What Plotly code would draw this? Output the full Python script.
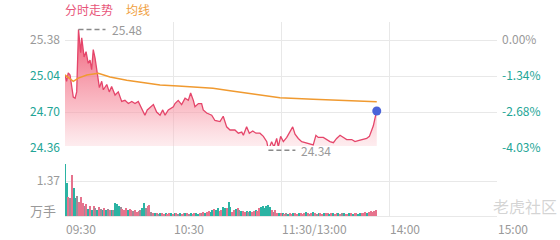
import plotly.graph_objects as go

# ---------------- data ----------------
# price line: minute index (from 09:30) and price
price_t = [0, 0.9, 1.8, 2.8, 4.6, 5.6, 6.5, 7.5, 8.7, 9.3, 10.6, 11.7, 12.9, 13.9, 14.8, 15.7,
           16.7, 17.9, 19.1, 20.4, 21.3, 23.2, 24.6, 25.9, 27.8, 29.6, 31.5, 33.3, 35.2, 37.1,
           38.9, 40.7, 42.6, 44.4, 45.7, 47.2, 49.1, 50.9, 52.8, 54.3, 55.6, 57.4, 60.2, 61.1,
           62.9, 64.8, 66.7, 68.5, 69.8, 71.3, 72.2, 74.1, 75.9, 76.8, 78.7, 81.5, 83.3, 86.1,
           87.9, 89.8, 91.7, 94.4, 96.3, 98.2, 99.1, 100.9, 102.4, 104.3, 106.1, 108.3, 110.2,
           112.1, 113.0, 114.8, 116.1, 117.6, 118.5, 119.8, 121.3, 123.2, 125.0, 126.5, 127.8,
           129.6, 131.5, 133.3, 135.2, 137.9, 139.4, 140.7, 143.5, 145.4, 147.2, 149.1, 150.9,
           152.8, 154.6, 156.5, 159.3, 161.1, 162.9, 165.7, 167.6, 169.1, 170.4, 171.3, 172.2,
           173.2]
price_v = [25.05, 24.99, 25.07, 25.05, 24.84, 24.83, 24.89, 25.48, 25.26, 25.40, 25.22, 25.27,
           25.16, 25.19, 25.10, 25.29, 25.21, 25.05, 24.93, 24.99, 24.91, 24.96, 24.89, 24.94,
           24.86, 24.89, 24.80, 24.81, 24.78, 24.80, 24.78, 24.80, 24.74, 24.67, 24.72, 24.74,
           24.77, 24.70, 24.67, 24.72, 24.67, 24.72, 24.75, 24.78, 24.81, 24.77, 24.83, 24.81,
           24.88, 24.81, 24.75, 24.78, 24.78, 24.72, 24.69, 24.67, 24.62, 24.61, 24.66, 24.56,
           24.53, 24.53, 24.50, 24.51, 24.48, 24.56, 24.50, 24.52, 24.50, 24.50, 24.47, 24.42,
           24.34, 24.42, 24.37, 24.45, 24.37, 24.47, 24.42, 24.46, 24.52, 24.56, 24.49, 24.45,
           24.42, 24.41, 24.40, 24.39, 24.48, 24.46, 24.46, 24.44, 24.42, 24.41, 24.45, 24.48,
           24.46, 24.44, 24.44, 24.42, 24.43, 24.44, 24.45, 24.47, 24.52, 24.57, 24.64, 24.71]

# average line
avg_t = [0, 4.6, 7.4, 12.1, 18.5, 25, 34.3, 43.3, 52.8, 62.8, 82.2, 91.7, 100.9, 112.1,
         119.4, 137.8, 156.5, 173.2]
avg_v = [25.05, 24.99, 25.02, 25.05, 25.065, 25.03, 25.00, 24.977, 24.955, 24.946, 24.924,
         24.901, 24.877, 24.851, 24.835, 24.82, 24.807, 24.797]

# volume (万手) per minute, and direction (u = up, d = down, n = flat)
volume = [2.05, 1.28, 0.76, 0.72, 1.60, 1.08, 0.70, 0.78, 0.56, 0.73,
          0.50, 0.38, 0.46, 0.26, 0.39, 0.23, 0.39, 0.30, 0.23, 0.34,
          0.28, 0.23, 0.32, 0.24, 0.27, 0.22, 0.25, 0.22, 0.50, 0.46,
          0.40, 0.34, 0.26, 0.23, 0.30, 0.23, 0.26, 0.23, 0.20, 0.23,
          0.17, 0.20, 0.25, 0.30, 0.50, 0.30, 0.38, 0.45, 0.16, 0.10,
          0.12, 0.10, 0.09, 0.11, 0.10, 0.08, 0.12, 0.09, 0.10, 0.11,
          0.09, 0.10, 0.12, 0.08, 0.10, 0.09, 0.11, 0.10, 0.13, 0.09,
          0.10, 0.08, 0.11, 0.10, 0.09, 0.12, 0.10, 0.14, 0.12, 0.17,
          0.20, 0.16, 0.23, 0.26, 0.23, 0.30, 0.20, 0.24, 0.36, 0.30,
          0.30, 0.56, 0.36, 0.17, 0.23, 0.26, 0.30, 0.23, 0.18, 0.20,
          0.17, 0.20, 0.16, 0.19, 0.17, 0.20, 0.23, 0.18, 0.30, 0.36,
          0.40, 0.33, 0.40, 0.43, 0.34, 0.23, 0.17, 0.23, 0.12, 0.13,
          0.10, 0.12, 0.09, 0.11, 0.08, 0.10, 0.09, 0.12, 0.10, 0.08,
          0.10, 0.12, 0.09, 0.10, 0.14, 0.11, 0.09, 0.10, 0.15, 0.10,
          0.09, 0.11, 0.10, 0.08, 0.13, 0.10, 0.12, 0.09, 0.10, 0.11,
          0.08, 0.10, 0.12, 0.09, 0.10, 0.11, 0.09, 0.08, 0.10, 0.12,
          0.09, 0.10, 0.11, 0.09, 0.10, 0.12, 0.10, 0.14, 0.12, 0.16,
          0.18, 0.15, 0.20, 0.23]
direction = list(
    "uudnduundd"
    "dndududnud"
    "nudundunuu"
    "unddduddnd"
    "ddnuunddnd"
    "udnudduddu"
    "dudnuddudn"
    "udduudndud"
    "duuduudduu"
    "duuddudnud"
    "dunudduddu"
    "uuuuudnddu"
    "dudnuddudd"
    "udddudndud"
    "nudduddudu"
    "ddudnuddud"
    "udduudddud"
    "dddd"
)

time_ticks = [0, 60, 120, 180, 240]
time_labels = ["09:30", "10:30", "11:30/13:00", "14:00", "15:00"]
price_ticks = [25.38, 25.04, 24.70, 24.36]
pct_labels = ["0.00%", "-1.34%", "-2.68%", "-4.03%"]
vol_ticks = [1.37]

# ---------------- styling ----------------
TEAL = "#22a596"
GRAY = "#999999"
PINK = "#e5456a"
GRID = "#e8e8e8"
FONT = "Noto Sans CJK SC"

prev_close = price_ticks[0]
y_lo, y_hi = 24.228, 25.55
vol_max = 2.74

def colored(txt, c):
    return f'<span style="color:{c}">{txt}</span>'

left_text = [colored(f"{v:.2f}", GRAY if v == prev_close else TEAL) for v in price_ticks]
right_text = [colored(p, GRAY if v == prev_close else TEAL) for p, v in zip(pct_labels, price_ticks)]

cmap = {"u": "#2bb3a3", "d": "#e6738d", "n": "#a08c98"}
bar_colors = [cmap[d] for d in direction[:len(volume)]]
while len(bar_colors) < len(volume):
    bar_colors.append(cmap["d"])

fig = go.Figure()

fig.add_trace(go.Scatter(
    x=price_t, y=price_v, mode="lines", fill="tozeroy",
    fillgradient=dict(type="vertical", start=y_lo, stop=max(price_v),
                      colorscale=[[0, "rgba(253,225,228,0.25)"], [0.4, "rgba(247,150,165,0.6)"],
                                  [1, "rgba(236,70,100,0.9)"]]),
    line=dict(color=PINK, width=1.3), xaxis="x", yaxis="y", hoverinfo="skip"))

fig.add_trace(go.Scatter(x=avg_t, y=avg_v, mode="lines",
                         line=dict(color="#f09a30", width=1.5), xaxis="x", yaxis="y",
                         hoverinfo="skip"))

fig.add_trace(go.Scatter(x=[price_t[-1]], y=[price_v[-1]], mode="markers",
                         marker=dict(color="#4a63d9", size=9), xaxis="x", yaxis="y",
                         hoverinfo="skip"))

# invisible trace to keep right axis
fig.add_trace(go.Scatter(x=price_t, y=price_v, mode="lines", opacity=0, xaxis="x", yaxis="y3",
                         hoverinfo="skip", line=dict(width=0)))

fig.add_trace(go.Bar(x=list(range(len(volume))), y=volume,
                     marker=dict(color=bar_colors, line=dict(width=0)),
                     width=0.75, xaxis="x", yaxis="y2", hoverinfo="skip"))

# max / min markers
i_max = price_v.index(max(price_v))
i_min = price_v.index(min(price_v))
for i in (i_max, i_min):
    fig.add_shape(type="line", xref="x", yref="y", x0=price_t[i], x1=price_t[i] + 15,
                  y0=price_v[i], y1=price_v[i], line=dict(color="#8a8a8a", width=1.5, dash="5px,3px"))
    fig.add_annotation(x=price_t[i] + 15, y=price_v[i], xref="x", yref="y", text=f"{price_v[i]:.2f}",
                       showarrow=False, xanchor="left", xshift=4,
                       font=dict(color=GRAY, size=12, family=FONT))

# x labels
for t, lab in zip(time_ticks, time_labels):
    fig.add_annotation(x=t, y=0, xref="x", yref="paper", text=lab, showarrow=False,
                       xanchor="left", yanchor="top", xshift=-1, yshift=-2,
                       font=dict(color=GRAY, size=12, family=FONT))

# 万手 label
fig.add_annotation(x=0, y=0.23, xref="paper", yref="y2", text="万手", showarrow=False,
                   xanchor="right", xshift=-7, font=dict(color=GRAY, size=13, family=FONT))

# legend texts
fig.add_annotation(x=0, y=1, xref="paper", yref="paper", text="分时走势", showarrow=False,
                   xanchor="left", yanchor="bottom", yshift=2, xshift=-2,
                   font=dict(color="#e8557a", size=12, family=FONT))
fig.add_annotation(x=0.1366, y=1, xref="paper", yref="paper", text="均线", showarrow=False,
                   xanchor="left", yanchor="bottom", yshift=2,
                   font=dict(color="#f0a040", size=12, family=FONT))

# watermark
fig.add_annotation(x=0.985, y=0.05, xref="paper", yref="paper", text="老虎社区", showarrow=False,
                   xanchor="left", yanchor="middle",
                   font=dict(color="rgba(170,170,170,0.5)", size=16, family=FONT))

fig.update_layout(
    width=560, height=240, margin=dict(l=65, r=63, t=22, b=24),
    paper_bgcolor="white", plot_bgcolor="white", showlegend=False, bargap=0,
    font=dict(family=FONT, size=12, color=GRAY),
    xaxis=dict(range=[0, 240], domain=[0, 1], anchor="y2", tickvals=time_ticks,
               showticklabels=False, showgrid=True, gridcolor=GRID, gridwidth=1,
               zeroline=False, showline=True, linecolor=GRID, ticks=""),
    yaxis=dict(domain=[0.2784, 1], range=[y_lo, y_hi], tickvals=price_ticks, ticktext=left_text,
               showgrid=True, gridcolor=GRID, zeroline=False, ticks="", ticklabelstandoff=4,
               tickfont=dict(size=12, family=FONT)),
    yaxis3=dict(overlaying="y", side="right", range=[y_lo, y_hi], tickvals=price_ticks,
                ticktext=right_text, showgrid=False, zeroline=False, ticks="", ticklabelstandoff=4,
                tickfont=dict(size=12, family=FONT), anchor="x"),
    yaxis2=dict(domain=[0, 0.3608], range=[0, vol_max], tickvals=vol_ticks, ticktext=["1.37"],
                showgrid=True, gridcolor=GRID, zeroline=False, ticks="", ticklabelstandoff=4,
                tickfont=dict(size=12, family=FONT, color=GRAY)),
)

fig.write_html("out.html")
